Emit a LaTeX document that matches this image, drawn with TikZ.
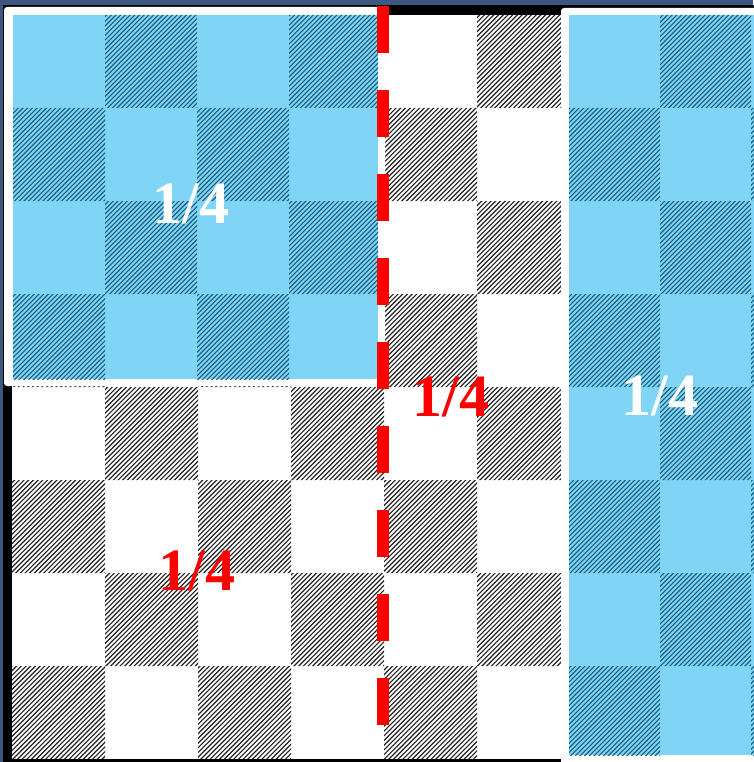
\documentclass[tikz,border=0pt]{standalone}
\usepackage{fontspec}
\setmainfont{Liberation Serif}
\definecolor{navy}{RGB}{60,88,128}
\definecolor{skyb}{RGB}{128,212,246}
\definecolor{teal}{RGB}{24,94,124}
\definecolor{hgray}{RGB}{35,35,35}
\tikzset{
  hatchdark/.style={draw=hgray,line width=1.15pt},
  hatchblue/.style={draw=teal,line width=1.1pt},
  frac/.style={font=\bfseries\fontsize{60}{60}\selectfont,anchor=base,inner sep=0pt},
  panelframe/.style={fill=white,rounded corners=3pt},
  redcut/.style={draw=red,line width=12pt,dash pattern=on 47pt off 37pt}
}
\begin{document}
\begin{tikzpicture}[x=1pt,y=-1pt]
\useasboundingbox (0,0) rectangle (753,762);
% background
\fill[navy] (0,0) rectangle (753,762);
% board frame
\fill[black] (3,5) rectangle (780,780);
\fill[white] (12,15) rectangle (756,759);
\begin{scope}
  \clip \foreach \r in {0,...,7}{\foreach \j in {0,...,3}{
      ({12+93*(mod(\r+1,2)+2*\j)},{15+93*\r}) rectangle ++(93,93) }};
  \draw[hatchdark] \foreach \k in {0,...,322}{ ({-745+4.7*\k},765) -- ++(760,-760) };
\end{scope}
% left panel
\fill[panelframe] (4,7) rectangle (385,386);
\fill[skyb] (13,15) rectangle (378,379);
\begin{scope}
  \clip (13,15) rectangle (378,379);
  \clip \foreach \r in {0,...,3}{\foreach \j in {0,...,1}{
      ({13+92*(mod(\r+1,2)+2*\j)},{15+93*\r}) rectangle ++(92,93) }};
  \draw[hatchblue] \foreach \k in {0,...,170}{ ({-400+4.7*\k},390) -- ++(400,-400) };
\end{scope}
% right panel
\fill[panelframe] (561,8) rectangle (790,790);
\fill[skyb] (569,15) rectangle (780,755);
\begin{scope}
  \clip (569,15) rectangle (780,755);
  \clip \foreach \r in {0,...,7}{\foreach \j in {0,...,1}{
      ({569+91*(mod(\r+1,2)+2*\j)},{15+93*\r}) rectangle ++(91,93) }};
  \draw[hatchblue] \foreach \k in {0,...,215}{ ({-200+4.7*\k},765) -- ++(760,-760) };
\end{scope}
% red cut line
\coordinate (cuttop) at (383,6);
\coordinate (cutbot) at (383,725);
\draw[redcut] (cuttop) -- (cutbot);
% labels
\node[frac,text=white] (lblA) at (191,223) {1/4};
\node[frac,text=red] (lblB) at (451,416) {1/4};
\node[frac,text=red] (lblC) at (197,590) {1/4};
\node[frac,text=white] (lblD) at (660,415) {1/4};
\end{tikzpicture}
\end{document}
